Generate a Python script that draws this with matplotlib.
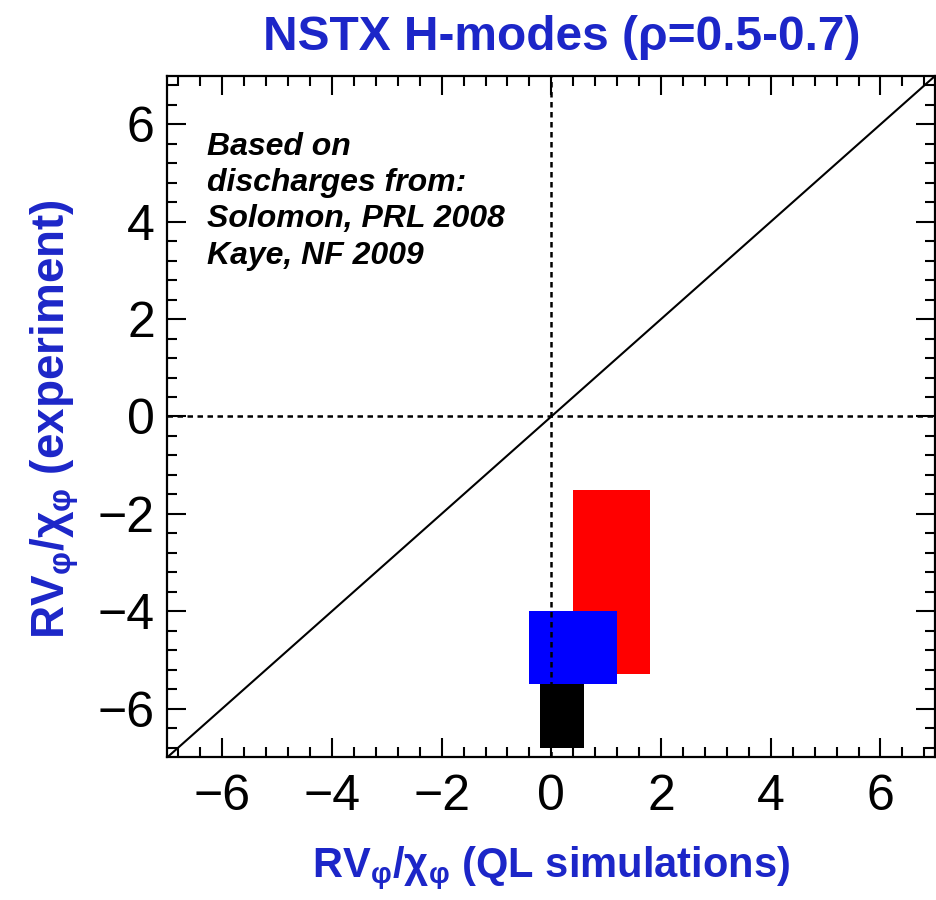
import matplotlib
matplotlib.use('Agg')
import matplotlib.pyplot as plt
from matplotlib.ticker import MultipleLocator

plt.rcParams['font.family'] = ['Liberation Sans', 'DejaVu Sans']
plt.rcParams['axes.unicode_minus'] = True

# QL-simulation vs experiment ranges for each group of discharges
box_colors = ['red', 'blue', 'black']
x_lo = [0.4, -0.4, -0.2]
x_hi = [1.8, 1.2, 0.6]
y_lo = [-5.3, -5.5, -6.8]
y_hi = [-1.5, -4.0, -5.5]

lims = [-7, 7]
major_ticks = [-6, -4, -2, 0, 2, 4, 6]

blue_txt = '#1c26c8'

fig = plt.figure(figsize=(9.37, 9.0), dpi=100)
ax = fig.add_axes([0.1786, 0.1586, 0.8196, 0.7573])

# red and blue boxes go under the zero lines, black goes on top
for i in range(3):
    z = 3 if box_colors[i] == 'black' else 1
    ax.bar(x_lo[i], y_hi[i] - y_lo[i], width=x_hi[i] - x_lo[i], bottom=y_lo[i],
           align='edge', color=box_colors[i], edgecolor='none', zorder=z)

ax.plot(lims, lims, color='black', lw=1.5, zorder=2)
ax.axhline(0, color='black', lw=1.8, ls=(0, (2.2, 1.8)), zorder=2)
ax.axvline(0, color='black', lw=1.8, ls=(0, (2.2, 1.8)), zorder=2)

ax.set_xlim(lims)
ax.set_ylim(lims)
ax.set_xticks(major_ticks)
ax.set_yticks(major_ticks)
ax.xaxis.set_minor_locator(MultipleLocator(0.4))
ax.yaxis.set_minor_locator(MultipleLocator(0.4))
ax.tick_params(which='both', direction='in', top=True, right=True, width=1.5,
               labelsize=36)
ax.tick_params(which='major', length=14)
ax.tick_params(which='minor', length=7)
ax.tick_params(axis='x', pad=12)
ax.tick_params(axis='y', pad=9)
for s in ax.spines.values():
    s.set_linewidth(1.6)

ax.set_xlabel(r'$\mathregular{RV_{φ}/χ_{φ}}$ (QL simulations)', fontsize=30,
              fontweight='bold', color=blue_txt)
ax.set_ylabel(r'$\mathregular{RV_{φ}/χ_{φ}}$ (experiment)', fontsize=33,
              fontweight='bold', color=blue_txt)
ax.xaxis.set_label_coords(0.5, -0.128)
ax.yaxis.set_label_coords(-0.113, 0.496)

fig.text(0.6, 0.958, 'NSTX H-modes (ρ=0.5-0.7)', fontsize=34.5, fontweight='bold',
         color=blue_txt, ha='center', va='center')

ax.text(0.052, 0.918, 'Based on\ndischarges from:\nSolomon, PRL 2008\nKaye, NF 2009',
        transform=ax.transAxes, fontsize=23, fontweight='bold', style='italic',
        va='top', ha='left', linespacing=1.28)

fig.savefig('out.png', dpi=100)
